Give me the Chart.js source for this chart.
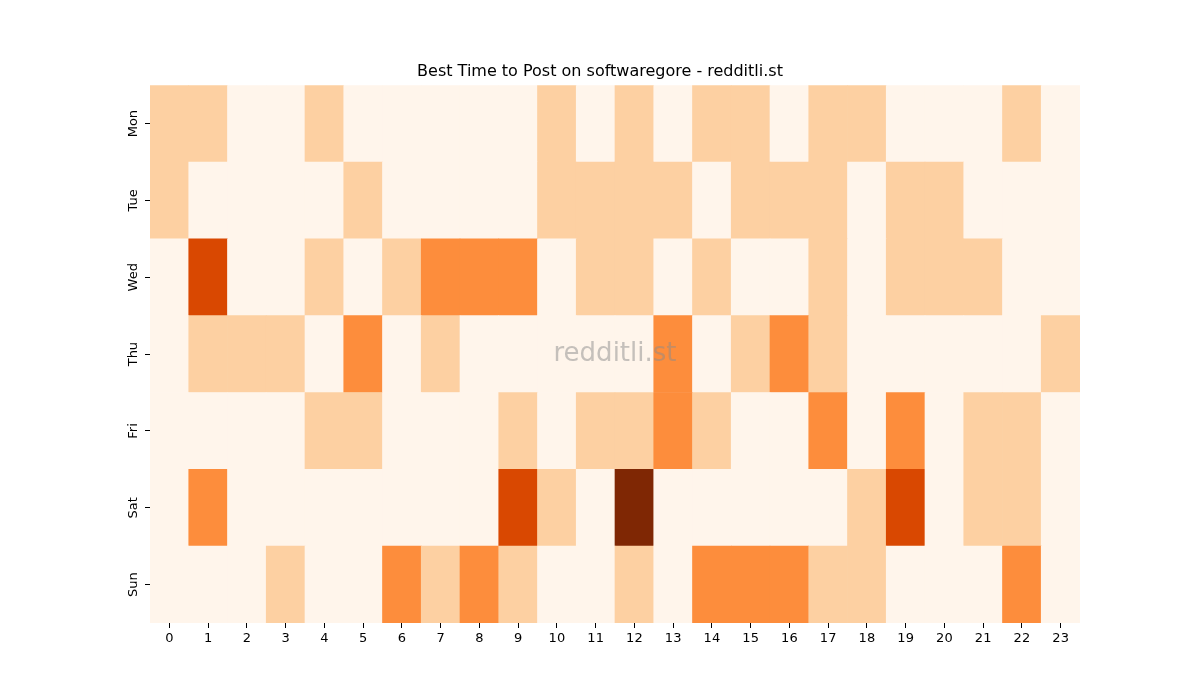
<!DOCTYPE html>
<html><head><meta charset="utf-8">
<script src="https://cdn.jsdelivr.net/npm/chart.js@4"></script>
<style>body{margin:0;background:#fff}</style></head>
<body><canvas id="c" width="1200" height="700"></canvas>
<script>
const hours = Array.from({length:24},(_,i)=>String(i));
const days = ["Mon","Tue","Wed","Thu","Fri","Sat","Sun"];
const mon = [1,1,0,0,1,0,0,0,0,0,1,0,1,0,1,1,0,1,1,0,0,0,1,0];
const tue = [1,0,0,0,0,1,0,0,0,0,1,1,1,1,0,1,1,1,0,1,1,0,0,0];
const wed = [0,3,0,0,1,0,1,2,2,2,0,1,1,0,1,0,0,1,0,1,1,1,0,0];
const thu = [0,1,1,1,0,2,0,1,0,0,0,0,0,2,0,1,2,1,0,0,0,0,0,1];
const fri = [0,0,0,0,1,1,0,0,0,1,0,1,1,2,1,0,0,2,0,2,0,1,1,0];
const sat = [0,2,0,0,0,0,0,0,0,3,1,0,4,0,0,0,0,0,1,3,0,1,1,0];
const sun = [0,0,0,1,0,0,2,1,2,1,0,0,1,0,2,2,2,1,1,0,0,0,2,0];
const levels = ["#fff5eb","#fdd0a2","#fd8d3c","#d94801","#7f2704"];
const rows = [mon,tue,wed,thu,fri,sat,sun];
const datasets = rows.map((r,i)=>({label:days[i],data:r.map(()=>1),backgroundColor:r.map(v=>levels[v]),
  categoryPercentage:1,barPercentage:1,borderWidth:0})).reverse();
const wm = {id:'wm',afterDatasetsDraw(ch){const a=ch.chartArea,c=ch.ctx;c.save();c.font='26px "DejaVu Sans"';
 c.fillStyle='rgba(140,140,140,0.5)';c.textAlign='center';c.textBaseline='middle';
 c.fillText('redditli.st',(a.left+a.right)/2,(a.top+a.bottom)/2);
 const y=ch.scales.y;c.fillStyle='#000';c.font='13px "DejaVu Sans"';
 [0.5,1.5,2.5,3.5,4.5,5.5,6.5].forEach((v,i)=>{c.save();c.translate(a.left-16,y.getPixelForValue(v));c.rotate(-Math.PI/2);
  c.fillText(days[6-i],0,0);c.restore();});
 c.restore();}};
new Chart(document.getElementById('c'),{type:'bar',data:{labels:hours,datasets},
 plugins:[wm],
 options:{responsive:false,animation:false,
  layout:{padding:{left:120,right:120,top:60,bottom:37}},
  plugins:{legend:{display:false},tooltip:{enabled:false},
   title:{display:true,text:'Best Time to Post on softwaregore - redditli.st',color:'#000',
    font:{family:'DejaVu Sans',size:16,weight:'normal'},padding:{top:2,bottom:4}}},
  scales:{
   x:{stacked:true,border:{display:false},grid:{drawOnChartArea:false,offset:false,tickLength:5,color:'#000'},
      ticks:{color:'#000',font:{family:'DejaVu Sans',size:13},maxRotation:0},afterFit(s){s.height=40;}},
   y:{stacked:true,min:0,max:7,border:{display:false},grid:{drawOnChartArea:false,tickLength:5,color:'#000'},
      afterBuildTicks(s){s.ticks=[0.5,1.5,2.5,3.5,4.5,5.5,6.5].map(v=>({value:v}));},
      ticks:{display:true,color:'rgba(0,0,0,0)',font:{size:1},callback:()=>''},
      afterFit(s){s.width=30;}}
  }}});
</script></body></html>
